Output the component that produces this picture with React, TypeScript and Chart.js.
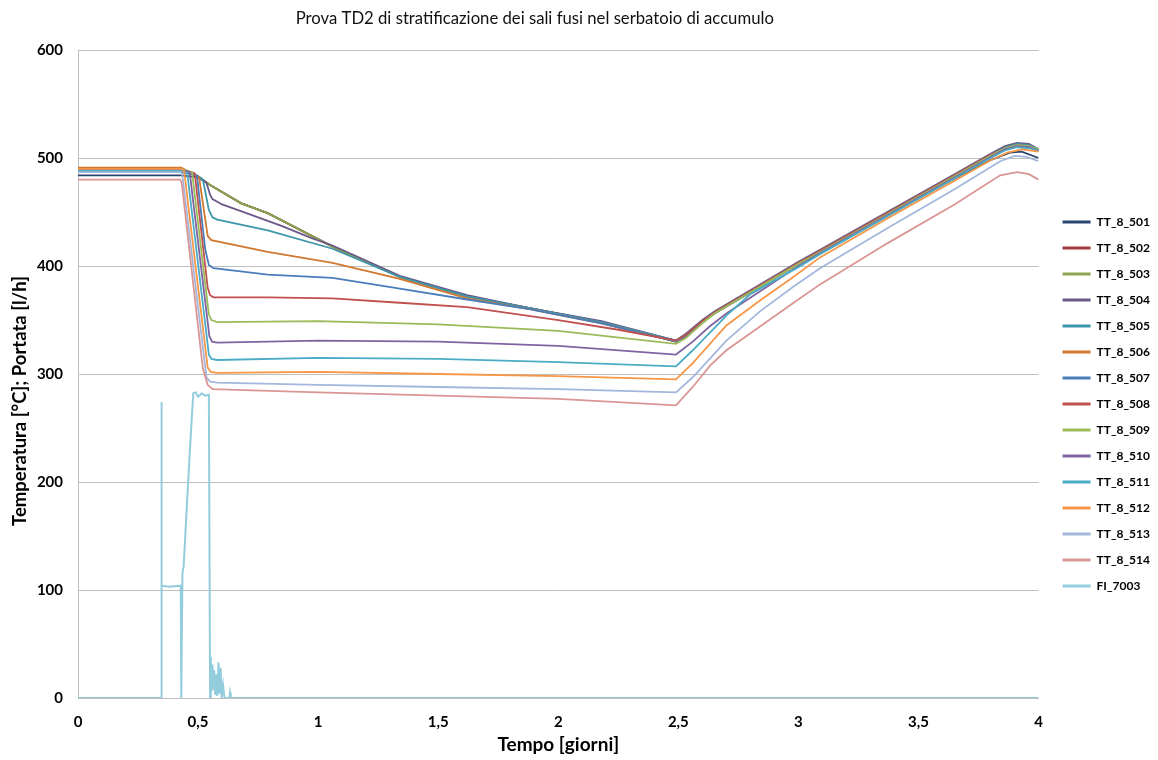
import React, { useEffect, useRef } from 'react';
import { Chart, registerables } from 'chart.js';

Chart.register(...registerables);

const chartTitle = 'Prova TD2 di stratificazione dei sali fusi nel serbatoio di accumulo';
const xAxisTitle = 'Tempo [giorni]';
const yAxisTitle = 'Temperatura [°C]; Portata [l/h]';
const xTickLabels = ['0', '0,5', '1', '1,5', '2', '2,5', '3', '3,5', '4'];

const seriesNames = [
  'TT_8_501', 'TT_8_502', 'TT_8_503', 'TT_8_504', 'TT_8_505', 'TT_8_506', 'TT_8_507',
  'TT_8_508', 'TT_8_509', 'TT_8_510', 'TT_8_511', 'TT_8_512', 'TT_8_513', 'TT_8_514', 'FI_7003',
];
const seriesColors = [
  '#28466f', '#a33b3a', '#8aa64c', '#6b5889', '#3e96aa', '#d2772e', '#4a7ebb',
  '#c0504d', '#9bbb59', '#8064a2', '#4bacc6', '#f79646', '#a3b7dc', '#d99694', '#93cddd',
];

type P = [number, number][];

const TT_8_501: P = [[0,484],[0.43,484],[0.5,482],[0.55,475],[0.68,458],[0.79,449],[1.06,418],[1.34,390],[1.62,372],[1.88,361],[2.18,348],[2.49,330],[2.53,335],[2.6,348],[2.65,356],[3.0,402],[3.09,413],[3.37,447],[3.65,481],[3.8,498],[3.88,505],[3.93,506],[4.0,500]];
const TT_8_502: P = [[0,489],[0.43,489],[0.5,483],[0.55,475],[0.68,458],[0.79,449],[1.06,418],[1.34,390],[1.62,372],[1.88,361],[2.18,348],[2.49,331],[2.53,336],[2.6,349],[2.65,357],[3.0,403],[3.09,414],[3.37,449],[3.65,484],[3.8,503],[3.86,509],[3.91,512],[3.96,511],[4.0,507]];
const TT_8_503: P = [[0,490],[0.43,490],[0.5,483],[0.55,475],[0.68,458],[0.79,449],[1.06,418],[1.34,390],[1.62,372],[1.88,361],[2.18,348],[2.49,330],[2.53,336],[2.6,349],[2.65,357],[3.0,403],[3.09,414],[3.37,449],[3.65,484],[3.8,503],[3.86,510],[3.91,513],[3.96,512],[4.0,508]];
const TT_8_504: P = [[0,490],[0.43,490],[0.5,483],[0.535,477],[0.55,466],[0.56,462],[0.6,457],[0.69,450],[0.85,437],[0.97,426],[1.06,419],[1.34,391],[1.62,373],[1.88,361],[2.18,349],[2.49,331],[2.53,337],[2.6,350],[2.65,358],[3.0,404],[3.09,415],[3.37,450],[3.65,485],[3.8,504],[3.86,511],[3.91,514],[3.96,513],[4.0,508]];
const TT_8_505: P = [[0,489],[0.43,489],[0.5,483],[0.52,480],[0.545,452],[0.56,445],[0.58,443],[0.79,433],[1.06,416],[1.34,390],[1.62,372],[1.88,361],[2.18,348],[2.49,331],[2.53,336],[2.6,349],[2.65,357],[3.0,403],[3.09,414],[3.37,449],[3.65,484],[3.8,503],[3.86,510],[3.91,513],[3.96,512],[4.0,508]];
const TT_8_506: P = [[0,491],[0.43,491],[0.5,483],[0.505,481],[0.54,428],[0.555,424],[0.79,413],[1.06,403],[1.34,388],[1.62,370],[1.88,360],[2.18,347],[2.49,330],[2.53,335],[2.6,348],[2.65,356],[3.0,402],[3.09,413],[3.37,448],[3.65,483],[3.8,502],[3.86,508],[3.91,511],[3.96,510],[4.0,507]];
const TT_8_507: P = [[0,487],[0.43,487],[0.495,484],[0.53,415],[0.545,401],[0.564,398],[0.79,392],[1.06,389],[1.34,379],[1.62,369],[1.88,360],[2.18,347],[2.49,330],[2.53,335],[2.6,348],[2.65,356],[3.0,402],[3.09,413],[3.37,448],[3.65,483],[3.8,502],[3.86,508],[3.91,511],[3.96,510],[4.0,506]];
const TT_8_508: P = [[0,489],[0.43,489],[0.486,486],[0.54,380],[0.55,373],[0.564,371],[0.79,371],[1.06,370],[1.34,366],[1.62,362],[2.0,350],[2.25,341],[2.49,331],[2.53,336],[2.6,349],[2.65,357],[3.0,403],[3.09,414],[3.37,449],[3.65,484],[3.8,503],[3.86,509],[3.91,512],[3.96,511],[4.0,507]];
const TT_8_509: P = [[0,490],[0.43,490],[0.475,487],[0.545,355],[0.555,350],[0.58,348],[1.0,349],[1.5,346],[2.0,340],[2.49,328],[2.53,333],[2.6,347],[2.65,356],[3.0,402],[3.09,413],[3.37,448],[3.65,483],[3.8,502],[3.86,509],[3.91,512],[3.96,511],[4.0,508]];
const TT_8_510: P = [[0,489],[0.43,489],[0.465,487],[0.547,335],[0.558,330],[0.58,329],[1.0,331],[1.5,330],[2.0,326],[2.49,318],[2.56,330],[2.63,344],[2.7,356],[3.0,400],[3.09,412],[3.37,447],[3.65,482],[3.8,501],[3.86,508],[3.91,511],[3.96,510],[4.0,507]];
const TT_8_511: P = [[0,488],[0.43,488],[0.455,486],[0.545,318],[0.556,314],[0.58,313],[1.0,315],[1.5,314],[2.0,311],[2.49,307],[2.56,322],[2.7,354],[2.8,374],[3.0,399],[3.09,411],[3.37,446],[3.65,481],[3.8,500],[3.86,507],[3.91,510],[3.96,509],[4.0,507]];
const TT_8_512: P = [[0,490],[0.43,490],[0.442,488],[0.54,306],[0.553,302],[0.58,301],[1.0,302],[1.5,300],[2.0,298],[2.49,295],[2.56,310],[2.7,345],[2.84,368],[2.98,390],[3.09,408],[3.37,444],[3.65,479],[3.8,498],[3.87,505],[3.93,508],[4.0,506]];
const TT_8_513: P = [[0,487],[0.43,487],[0.434,485],[0.535,297],[0.55,293],[0.58,292],[1.0,290],[1.5,288],[2.0,286],[2.49,283],[2.56,297],[2.7,331],[2.84,358],[2.98,381],[3.09,398],[3.37,435],[3.65,471],[3.84,497],[3.9,502],[3.95,501],[4.0,497]];
const TT_8_514: P = [[0,480],[0.425,480],[0.432,477],[0.52,305],[0.54,290],[0.56,286],[1.0,283],[1.5,280],[2.0,277],[2.49,271],[2.56,288],[2.633,308],[2.7,322],[2.84,344],[2.98,366],[3.09,383],[3.37,421],[3.65,457],[3.84,484],[3.91,487],[3.96,485],[4.0,480]];
const FI_7003: P = [[0,0],[0.346,0],[0.347,274],[0.349,104],[0.38,103],[0.428,104],[0.43,0],[0.433,0],[0.435,116],[0.44,122],[0.455,185],[0.47,245],[0.48,282],[0.49,283],[0.5,279],[0.515,282],[0.53,280],[0.545,281],[0.55,0],[0.553,38],[0.556,6],[0.56,31],[0.563,8],[0.567,26],[0.571,3],[0.575,22],[0.58,2],[0.585,33],[0.589,4],[0.594,28],[0.598,0],[0.604,12],[0.61,0],[0.63,0],[0.633,5],[0.636,0],[4,0]];

const seriesData: P[] = [
  TT_8_501, TT_8_502, TT_8_503, TT_8_504, TT_8_505, TT_8_506, TT_8_507,
  TT_8_508, TT_8_509, TT_8_510, TT_8_511, TT_8_512, TT_8_513, TT_8_514, FI_7003,
];

const FONT = 'Lato, "Open Sans", "Noto Sans", sans-serif';

export default function App() {
  const ref = useRef<HTMLCanvasElement>(null);

  useEffect(() => {
    document.body.style.margin = '0';
    if (!ref.current) return;
    Chart.defaults.font.family = FONT;
    const n = seriesData.length;
    const chart = new Chart(ref.current, {
      type: 'line',
      data: {
        datasets: seriesData.map((pts, i) => ({
          label: seriesNames[i],
          data: pts.map(([x, y]) => ({ x, y })),
          borderColor: seriesColors[i],
          backgroundColor: seriesColors[i],
          borderWidth: i === n - 1 ? 2 : 1.8,
          pointRadius: 0,
          tension: 0,
          order: n - i,
        })),
      },
      options: {
        animation: false,
        responsive: true,
        maintainAspectRatio: false,
        layout: { padding: { left: 0, right: -2, top: 0, bottom: 0 } },
        plugins: {
          tooltip: { enabled: false },
          title: {
            display: true,
            text: chartTitle + ' '.repeat(11),
            fullSize: false,
            color: '#111',
            font: { family: FONT, size: 16.7, weight: 'normal' },
            padding: { top: 9, bottom: 21 },
          },
          legend: {
            position: 'right',
            align: 'start',
            fullSize: false,
            title: { display: true, text: ' ', font: { size: 10 }, padding: { top: 140, bottom: 0 } },
            labels: {
              boxWidth: 28,
              boxHeight: 3,
              padding: 14,
              color: '#000',
              font: { family: FONT, size: 12, weight: 'bold' },
              generateLabels: () =>
                seriesNames.map((name, i) => ({
                  text: name,
                  fillStyle: seriesColors[i],
                  strokeStyle: seriesColors[i],
                  lineWidth: 0,
                  hidden: false,
                  datasetIndex: i,
                  fontColor: '#000',
                })),
            },
          },
        },
        scales: {
          x: {
            type: 'linear',
            min: 0,
            max: 4,
            afterFit: (s: any) => { s.height = 62; },
            ticks: {
              stepSize: 0.5,
              padding: 15,
              color: '#000',
              font: { family: FONT, size: 15, weight: 'bold' },
              maxRotation: 0,
              callback: (v: any) => xTickLabels[Math.round(Number(v) / 0.5)] ?? '',
            },
            grid: { display: false, drawTicks: false },
            border: { display: true, color: '#bfbfbf', width: 1 },
            title: {
              display: true,
              text: xAxisTitle,
              color: '#000',
              font: { family: FONT, size: 19, weight: 'bold' },
              padding: { top: 0, bottom: 4 },
            },
          },
          y: {
            type: 'linear',
            min: 0,
            max: 600,
            afterFit: (s: any) => { s.width = 78; },
            ticks: {
              stepSize: 100,
              padding: 15,
              color: '#000',
              font: { family: FONT, size: 15, weight: 'bold' },
            },
            grid: { color: '#bfbfbf', lineWidth: 1, drawTicks: false },
            border: { display: true, color: '#bfbfbf', width: 1 },
            title: {
              display: true,
              text: yAxisTitle + ' '.repeat(12),
              color: '#000',
              font: { family: FONT, size: 18.5, weight: 'bold' },
              padding: { top: 9, bottom: 0 },
            },
          },
          yGap: {
            type: 'linear',
            position: 'right',
            display: true,
            afterFit: (s: any) => { s.width = 10; },
            ticks: { display: false },
            grid: { display: false, drawTicks: false },
            border: { display: false },
          },
        },
      } as any,
    });
    return () => chart.destroy();
  }, []);

  return (
    <div style={{ width: 1158, height: 760, position: 'relative' }}>
      <canvas ref={ref} />
    </div>
  );
}
